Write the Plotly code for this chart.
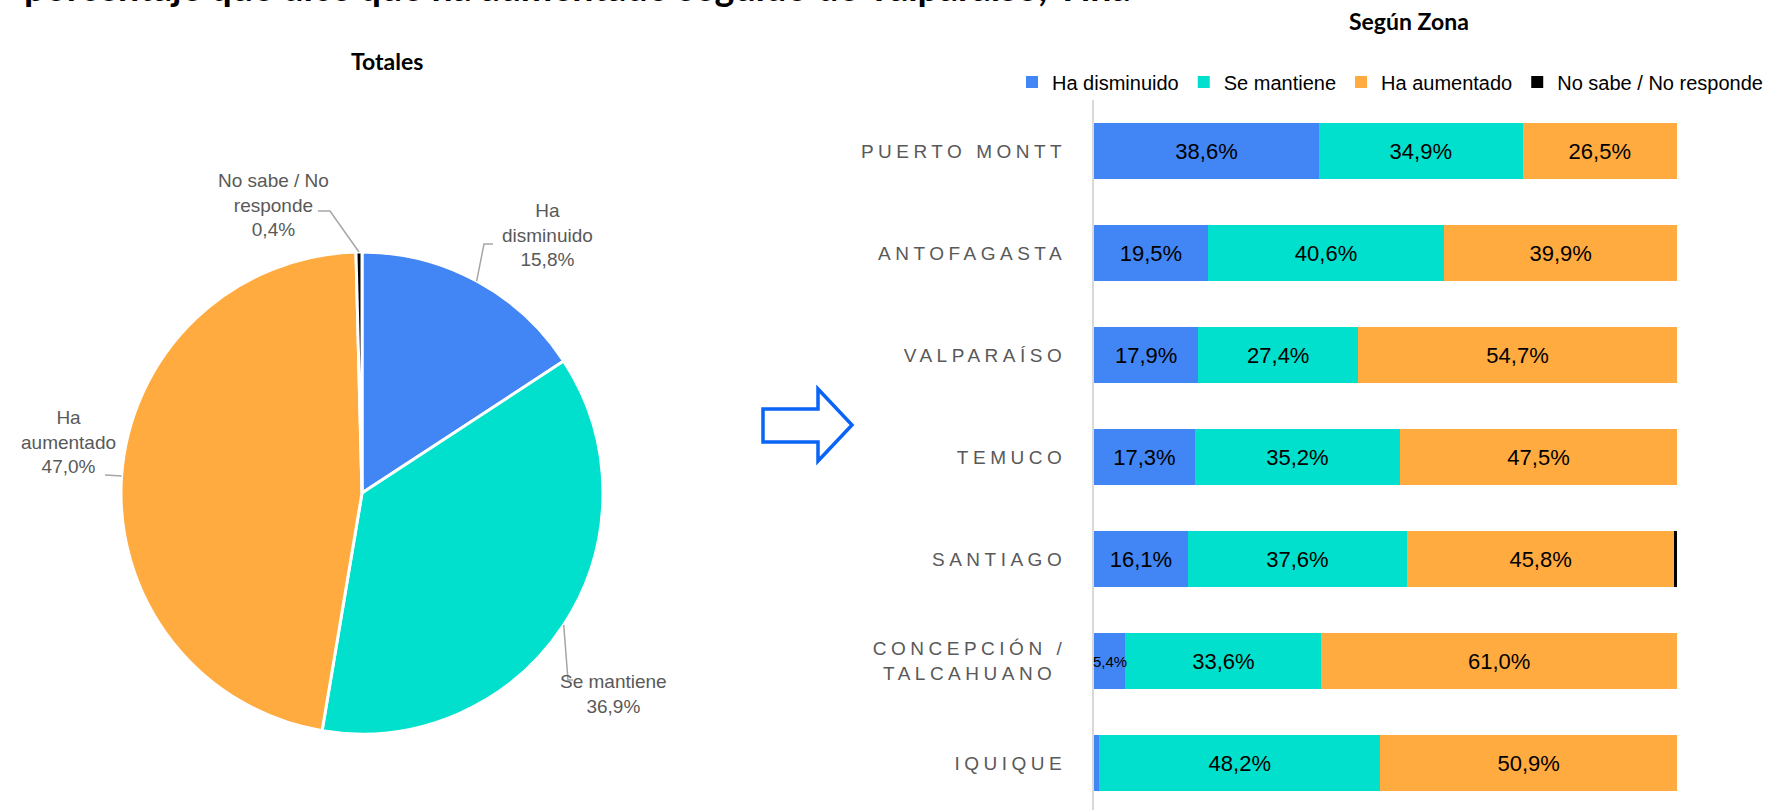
import math
import plotly.graph_objects as go

W, H = 1777, 810

# ---------------- data ----------------
pie_labels = ["Ha disminuido", "Se mantiene", "Ha aumentado", "No sabe / No responde"]
pie_values = [15.8, 36.9, 47.0, 0.4]
pie_label_text = ["Ha<br>disminuido", "Se mantiene", "Ha<br>aumentado", "No sabe / No<br>responde"]

zones = ["PUERTO MONTT", "ANTOFAGASTA", "VALPARAÍSO", "TEMUCO", "SANTIAGO",
         "CONCEPCIÓN /<br>TALCAHUANO\u00a0", "IQUIQUE"]
ha_disminuido = [38.6, 19.5, 17.9, 17.3, 16.1, 5.4, 0.9]
se_mantiene = [34.9, 40.6, 27.4, 35.2, 37.6, 33.6, 48.2]
ha_aumentado = [26.5, 39.9, 54.7, 47.5, 45.8, 61.0, 50.9]
no_sabe = [0.0, 0.0, 0.0, 0.0, 0.5, 0.0, 0.0]

series_names = ["Ha disminuido", "Se mantiene", "Ha aumentado", "No sabe / No responde"]
series_values = [ha_disminuido, se_mantiene, ha_aumentado, no_sabe]
colors = ["#4285F4", "#00E0CC", "#FFAB40", "#000000"]

title_text = "porcentaje que dice que ha aumentado seguido de Valparaíso, Viña"

# ---------------- helpers ----------------
def X(px):
    return px / W

def Y(py):
    return 1 - py / H

def fmt(v):
    return f"{v:.1f}".replace(".", ",") + "%"

# ---------------- figure ----------------
fig = go.Figure()

# pie geometry (px)
cx, cy, R = 362, 493, 241
fig.add_trace(go.Pie(
    labels=pie_labels, values=pie_values, sort=False, direction="clockwise",
    rotation=0, marker=dict(colors=colors, line=dict(color="white", width=3)),
    textinfo="none", showlegend=False, hoverinfo="label+percent",
    domain=dict(x=[X(cx - R), X(cx + R)], y=[Y(cy + R), Y(cy - R)]),
))

annotations = []

# stacked bars
for name, vals, col in zip(series_names, series_values, colors):
    texts = [fmt(v) if v >= 10 else "" for v in vals]
    fig.add_trace(go.Bar(
        y=zones, x=vals, name=name, orientation="h",
        marker=dict(color=col, line=dict(width=0)),
        text=texts, textposition="inside", insidetextanchor="middle", textangle=0,
        textfont=dict(family="Liberation Sans, Arial", size=22, color="black"),
        cliponaxis=False,
    ))
    # small segments: label centred on the segment, allowed to overflow it
    base = [sum(s[j] for s in series_values[:series_values.index(vals)]) for j in range(len(vals))]
    for j, v in enumerate(vals):
        if 3 <= v < 10:
            annotations.append(dict(
                x=base[j] + v / 2, y=zones[j], xref="x", yref="y", text=fmt(v),
                showarrow=False, xanchor="center", yanchor="middle",
                font=dict(family="Liberation Sans, Arial", size=15, color="black")))

# pie labels with leader lines
label_pos = [(547, 235), (613, 694), (68, 442), (273, 205)]
elbows = [[(484, 244), (493, 244)],
          [(568, 680), (573, 680)],
          [(105, 475)],
          [(330, 211), (318, 211)]]
cum = 0
shapes = []
total = sum(pie_values)
for i, v in enumerate(pie_values):
    mid = (cum + v / 2) / total * 2 * math.pi
    cum += v
    rx = cx + R * math.sin(mid)
    ry = cy - R * math.cos(mid)
    pts = [(rx, ry)] + elbows[i]
    path = "M " + " L ".join(f"{X(p[0])},{Y(p[1])}" for p in pts)
    shapes.append(dict(type="path", xref="paper", yref="paper", path=path,
                       line=dict(color="#A6A6A6", width=1.5)))
    annotations.append(dict(
        x=X(label_pos[i][0]), y=Y(label_pos[i][1]), xref="paper", yref="paper",
        xanchor="center", yanchor="middle",
        text=pie_label_text[i] + "<br>" + fmt(v), showarrow=False, align="center",
        font=dict(family="Liberation Sans, Arial", size=19, color="#595959"),
    ))

# titles
annotations.append(dict(x=X(387), y=Y(61), xref="paper", yref="paper", text="<b>Totales</b>",
                        xanchor="center", yanchor="middle",
                        showarrow=False, font=dict(family="Lato", size=23, color="black")))
annotations.append(dict(x=X(1409), y=Y(21), xref="paper", yref="paper", text="<b>Según Zona</b>",
                        xanchor="center", yanchor="middle",
                        showarrow=False, font=dict(family="Lato", size=23, color="black")))
annotations.append(dict(x=X(22), y=Y(11), xref="paper", yref="paper", xanchor="left",
                        yanchor="bottom", text="<b>" + title_text + "</b>",
                        showarrow=False, font=dict(family="Lato", size=37.5, color="black")))

# blue outline arrow
arrow_pts = [(763, 409), (818, 409), (818, 389), (852, 425), (818, 461), (818, 442), (763, 442)]
shapes.append(dict(type="path", xref="paper", yref="paper",
                   path="M " + " L ".join(f"{X(a)},{Y(b)}" for a, b in arrow_pts) + " Z",
                   line=dict(color="#0A64F5", width=3.5), fillcolor="white"))

fig.update_layout(
    width=W, height=H, barmode="stack", bargap=0.45,
    margin=dict(l=0, r=0, t=0, b=0),
    paper_bgcolor="white", plot_bgcolor="white",
    font=dict(family="Liberation Sans, Arial", color="black"),
    xaxis=dict(domain=[X(1094), X(1677)], range=[0, 100], showticklabels=False,
               showgrid=False, zeroline=False, showline=False, fixedrange=True),
    yaxis=dict(domain=[0, Y(100)], range=[6.46, -0.5], categoryorder="array",
               categoryarray=zones, showgrid=False, zeroline=False, showline=True,
               linecolor="#D9D9D9", linewidth=2, ticks="", ticklabelstandoff=22,
               tickfont=dict(family="Liberation Sans, Arial", size=19, color="#595959")),
    legend=dict(orientation="h", x=X(1012), xanchor="left", y=Y(82), yanchor="middle",
                font=dict(family="Liberation Sans, Arial", size=20, color="black"),
                itemwidth=30, tracegroupgap=0, traceorder="normal", bgcolor="rgba(0,0,0,0)"),
    shapes=shapes, annotations=annotations, separators=",.",
)

post = ("document.body.style.margin='0';"
        "document.querySelectorAll('.ytick text').forEach(function(t){"
        "t.style.letterSpacing='4.5px';});")
fig.write_html("out.html", post_script=post, config={"displayModeBar": False})
